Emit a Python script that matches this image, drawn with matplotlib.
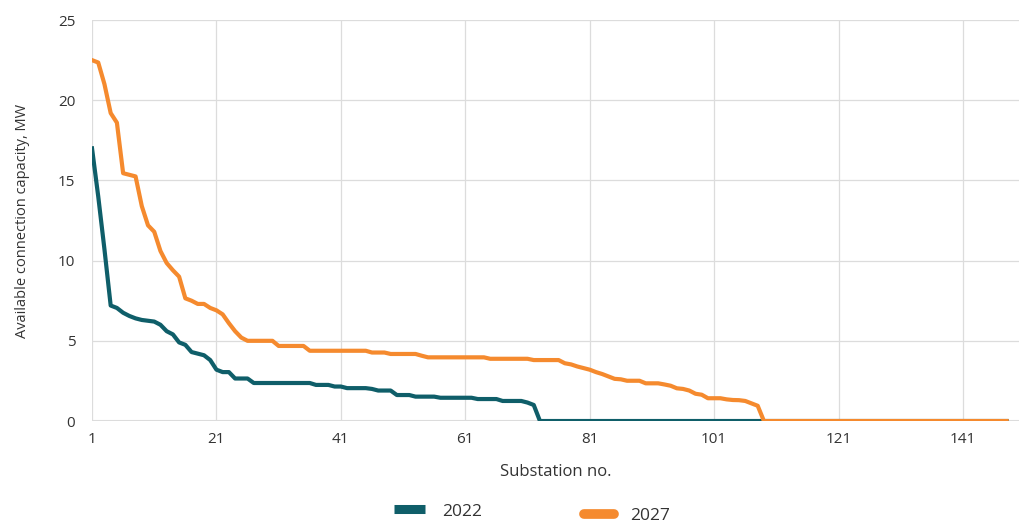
import matplotlib
matplotlib.use("Agg")
import matplotlib.pyplot as plt
from matplotlib.lines import Line2D
import numpy as np

plt.rcParams['font.family'] = ['Open Sans', 'DejaVu Sans']

# substation numbers 1..148
substation = np.arange(1, 149)

# 2022 available capacity (MW)
cap_2022 = ([17.0, 14.0, 10.7, 7.2, 7.05, 6.75, 6.55, 6.4, 6.3, 6.25,
             6.2, 6.0, 5.6, 5.4, 4.9, 4.75, 4.3, 4.2, 4.1, 3.8,
             3.2, 3.05, 3.05, 2.65, 2.65, 2.65]
            + [2.37] * 10          # 27-36
            + [2.25] * 3           # 37-39
            + [2.15] * 2           # 40-41
            + [2.05] * 4           # 42-45
            + [2.0]                # 46
            + [1.9] * 3            # 47-49
            + [1.62] * 3           # 50-52
            + [1.52] * 4           # 53-56
            + [1.45] * 6           # 57-62
            + [1.37] * 4           # 63-66
            + [1.25] * 4           # 67-70
            + [1.15, 1.0]          # 71-72
            + [0.0] * 76)          # 73-148

# 2027 available capacity (MW)
cap_2027 = ([22.5, 22.35, 21.0, 19.2, 18.6, 15.45, 15.35, 15.25, 13.4, 12.2,
             11.8, 10.6, 9.85, 9.4, 9.0, 7.65, 7.5, 7.3, 7.3, 7.05,
             6.9, 6.65, 6.1, 5.6, 5.2]
            + [5.0] * 5            # 26-30
            + [4.68] * 5           # 31-35
            + [4.38] * 10          # 36-45
            + [4.27] * 3           # 46-48
            + [4.18] * 5           # 49-53
            + [4.07]               # 54
            + [3.97] * 10          # 55-64
            + [3.88] * 7           # 65-71
            + [3.8] * 5            # 72-76
            + [3.6, 3.53, 3.4, 3.3, 3.2, 3.05, 2.93, 2.78, 2.63, 2.6]  # 77-86
            + [2.51] * 3           # 87-89
            + [2.35] * 3           # 90-92
            + [2.28, 2.2, 2.04, 2.0, 1.9, 1.7, 1.64]  # 93-99
            + [1.42] * 3           # 100-102
            + [1.35, 1.31, 1.3, 1.25, 1.1, 0.95]  # 103-108
            + [0.0] * 40)          # 109-148

labels = ['2022', '2027']
colors = ['#0f5e69', '#f58a2e']
xticks = [1, 21, 41, 61, 81, 101, 121, 141]
yticks = [0, 5, 10, 15, 20, 25]
txt = '#333333'

fig = plt.figure(figsize=(10.19, 5.23), dpi=100)
ax = fig.add_axes([0.0903, 0.195, 0.9097, 0.7667])

ax.plot(substation, cap_2022, color=colors[0], lw=3.0, solid_joinstyle='round', zorder=3)
ax.plot(substation, cap_2027, color=colors[1], lw=3.0, solid_joinstyle='round', zorder=4)

ax.set_xlim(1, 150)
ax.set_ylim(0, 25)
ax.set_xticks(xticks)
ax.set_yticks(yticks)
ax.grid(True, color='#dcdcdc', lw=0.9)
ax.set_axisbelow(True)
for s in ax.spines.values():
    s.set_visible(False)
ax.axhline(0, color='#dcdcdc', lw=1.5, zorder=1)
ax.tick_params(length=0, labelsize=11, labelcolor=txt)
ax.tick_params(axis='y', pad=12)
ax.tick_params(axis='x', pad=8)

ax.set_xlabel('Substation no.', fontsize=12, color=txt, labelpad=12)
ax.set_ylabel('Available connection capacity, MW', fontsize=10.5, color=txt, labelpad=20)

h1 = Line2D([], [], color=colors[0], lw=6.5, solid_capstyle='butt')
h2 = Line2D([], [], color=colors[1], lw=7.0, solid_capstyle='round')
leg1 = fig.legend([h1], [labels[0]], loc='center left', bbox_to_anchor=(0.380, 0.022),
                  frameon=False, fontsize=12.5, handlelength=1.75, handletextpad=1.0,
                  borderaxespad=0)
leg2 = fig.legend([h2], [labels[1]], loc='center left', bbox_to_anchor=(0.566, 0.014),
                  frameon=False, fontsize=12.5, handlelength=1.75, handletextpad=0.95,
                  borderaxespad=0)
for leg in (leg1, leg2):
    for t in leg.get_texts():
        t.set_color(txt)

fig.savefig('out.png', dpi=100)
